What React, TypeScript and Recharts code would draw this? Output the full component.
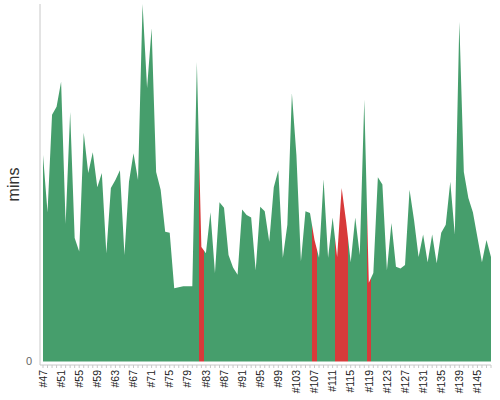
import { AreaChart, Area, XAxis, YAxis } from 'recharts';

const builds = [
  '#47', '#48', '#49', '#50', '#51', '#52', '#53', '#54', '#55', '#56',
  '#57', '#58', '#59', '#60', '#61', '#62', '#63', '#64', '#65', '#66',
  '#67', '#68', '#69', '#70', '#71', '#72', '#73', '#74', '#75', '#76',
  '#77', '#78', '#79', '#80', '#81', '#82', '#83', '#84', '#85', '#86',
  '#87', '#88', '#89', '#90', '#91', '#92', '#93', '#94', '#95', '#96',
  '#97', '#98', '#99', '#100', '#101', '#102', '#103', '#104', '#105', '#106',
  '#107', '#108', '#109', '#110', '#111', '#112', '#113', '#114', '#115', '#116',
  '#117', '#118', '#119', '#120', '#121', '#122', '#123', '#124', '#125', '#126',
  '#127', '#128', '#129', '#130', '#131', '#132', '#133', '#134', '#135', '#136',
  '#137', '#138', '#139', '#140', '#141', '#143', '#145', '#146', '#147', '#148',
];

const durations = [
  23.1, 16.7, 27.6, 28.5, 31.3, 15.4, 27.9, 13.8, 12.3, 25.6,
  21.1, 23.4, 19.5, 21.1, 12.1, 19.4, 20.3, 21.4, 11.9, 20.1,
  23.3, 20.3, 40.0, 30.6, 37.3, 21.2, 19.2, 14.5, 14.4, 8.2,
  8.3, 8.4, 8.4, 8.4, 33.5, 12.8, 12.1, 16.7, 9.9, 17.8,
  17.2, 11.9, 10.5, 9.7, 17.0, 16.4, 16.1, 10.2, 17.3, 16.8,
  13.4, 19.5, 21.4, 11.6, 15.3, 30.0, 23.1, 11.2, 16.8, 16.6,
  13.6, 11.6, 20.4, 11.6, 16.1, 11.7, 19.4, 15.6, 11.1, 16.1,
  11.9, 29.3, 8.8, 9.9, 20.6, 19.8, 10.2, 15.5, 10.6, 10.4,
  10.8, 19.2, 15.8, 11.7, 14.2, 11.1, 14.2, 11.0, 14.4, 15.3,
  20.1, 14.2, 38.0, 21.2, 18.3, 16.7, 13.9, 11.1, 13.6, 11.7,
];

const failedBuilds = ['#82', '#107', '#112', '#113', '#114', '#119'];

const GREEN = '#469e6c';
const RED = '#d73a3a';

const data = builds.map((build, i) => ({ build, mins: durations[i] }));

const BuildTick = ({ x, y, payload, index }: any) => {
  if (index % 4 !== 0) return null;
  return (
    <g transform={`translate(${x},${y})`}>
      <text
        x={0}
        y={0}
        dy="0.35em"
        transform="rotate(-90)"
        textAnchor="end"
        fontSize={10.5}
        fill="#222"
      >
        {payload.value}
      </text>
    </g>
  );
};

const BuildTimeChart = () => {
  const last = builds.length - 1;
  // hard colour stops, one band per build centred on its point
  const stops = builds.flatMap((b, i) => {
    const color = failedBuilds.includes(b) ? RED : GREEN;
    return [
      { offset: Math.max(0, (i - 0.5) / last), color },
      { offset: Math.min(1, (i + 0.5) / last), color },
    ];
  });

  return (
    <div style={{ position: 'absolute', left: 0, top: 0, fontFamily: '"Liberation Sans", Arial, sans-serif' }}>
      <AreaChart width={500} height={400} data={data} margin={{ top: 4, right: 9, left: 0, bottom: 0 }}>
        <defs>
          <linearGradient id="buildFill" x1="0" y1="0" x2="1" y2="0">
            {stops.map((s, i) => (
              <stop key={i} offset={s.offset} stopColor={s.color} />
            ))}
          </linearGradient>
        </defs>
        <XAxis
          dataKey="build"
          interval={0}
          height={35}
          padding={{ left: 3, right: 0 }}
          tick={<BuildTick />}
          tickSize={3}
          tickMargin={2}
          axisLine={{ stroke: '#c8c8c8' }}
          tickLine={{ stroke: '#c8c8c8' }}
        />
        <YAxis
          width={40}
          domain={[-0.4, 40]}
          ticks={[0]}
          allowDataOverflow
          tickLine={false}
          axisLine={{ stroke: '#c8c8c8' }}
          tick={{ fontSize: 11, fill: '#666' }}
          tickSize={6}
          tickMargin={2}
          label={{ value: 'mins', angle: -90, position: 'center', dx: -7, fontSize: 16, fill: '#333' }}
        />
        <Area
          type="linear"
          dataKey="mins"
          stroke="none"
          fill="url(#buildFill)"
          fillOpacity={1}
          dot={false}
          activeDot={false}
          isAnimationActive={false}
        />
      </AreaChart>
    </div>
  );
};

export default function App() {
  return <BuildTimeChart />;
}
